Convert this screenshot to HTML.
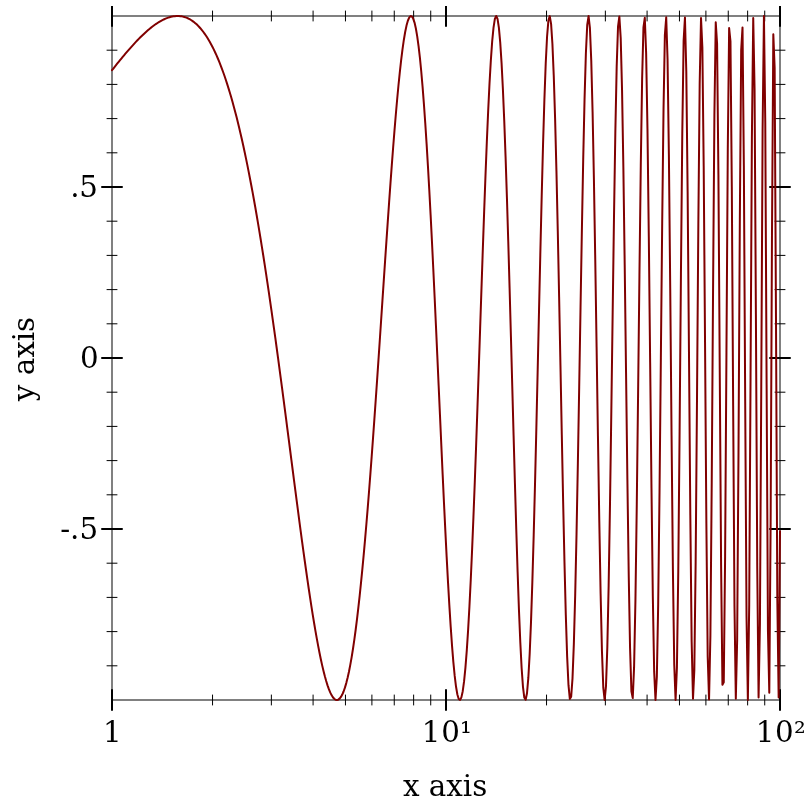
<!DOCTYPE html>
<html><head><meta charset="utf-8"><title>plot</title>
<style>
html,body{margin:0;padding:0;background:#fff;}
svg{display:block}
text{font-family:"DejaVu Serif","Liberation Serif",serif;font-size:29.33px;fill:#000}
</style></head><body>
<svg width="812" height="812" viewBox="0 0 812 812">
<rect width="812" height="812" fill="#fff"/>
<rect x="112" y="16" width="668" height="684" fill="none" stroke="#808080" stroke-width="2"/>
<path d="M107,665.80H117 M775,665.80H785 M107,631.60H117 M775,631.60H785 M107,597.40H117 M775,597.40H785 M107,563.20H117 M775,563.20H785 M107,494.80H117 M775,494.80H785 M107,460.60H117 M775,460.60H785 M107,426.40H117 M775,426.40H785 M107,392.20H117 M775,392.20H785 M107,323.80H117 M775,323.80H785 M107,289.60H117 M775,289.60H785 M107,255.40H117 M775,255.40H785 M107,221.20H117 M775,221.20H785 M107,152.80H117 M775,152.80H785 M107,118.60H117 M775,118.60H785 M107,84.40H117 M775,84.40H785 M107,50.20H117 M775,50.20H785 M212.54,11V21 M212.54,695V705 M271.36,11V21 M271.36,695V705 M313.09,11V21 M313.09,695V705 M345.46,11V21 M345.46,695V705 M371.90,11V21 M371.90,695V705 M394.26,11V21 M394.26,695V705 M413.63,11V21 M413.63,695V705 M430.72,11V21 M430.72,695V705 M546.54,11V21 M546.54,695V705 M605.36,11V21 M605.36,695V705 M647.09,11V21 M647.09,695V705 M679.46,11V21 M679.46,695V705 M705.90,11V21 M705.90,695V705 M728.26,11V21 M728.26,695V705 M747.63,11V21 M747.63,695V705 M764.72,11V21 M764.72,695V705" stroke="#000" stroke-width="1" stroke-linecap="round" fill="none"/>
<clipPath id="c"><rect x="0" y="6" width="812" height="806"/></clipPath>
<path clip-path="url(#c)" d="M102,529.00H122 M770,529.00H790 M102,358.00H122 M770,358.00H790 M102,187.00H122 M770,187.00H790 M112,6V26 M112,690V710 M446,6V26 M446,690V710 M780,6V26 M780,690V710" stroke="#000" stroke-width="2" stroke-linecap="round" fill="none"/>
<path d="M112.00,70.22 L113.34,68.52 L114.68,66.82 L116.02,65.14 L117.35,63.47 L118.69,61.81 L120.03,60.17 L121.37,58.54 L122.71,56.92 L124.05,55.31 L125.39,53.72 L126.73,52.15 L128.06,50.60 L129.40,49.06 L130.74,47.54 L132.08,46.05 L133.42,44.57 L134.76,43.12 L136.10,41.69 L137.43,40.29 L138.77,38.91 L140.11,37.56 L141.45,36.23 L142.79,34.94 L144.13,33.67 L145.47,32.44 L146.81,31.24 L148.14,30.07 L149.48,28.94 L150.82,27.84 L152.16,26.79 L153.50,25.77 L154.84,24.79 L156.18,23.86 L157.52,22.97 L158.85,22.12 L160.19,21.33 L161.53,20.58 L162.87,19.88 L164.21,19.23 L165.55,18.64 L166.89,18.10 L168.22,17.62 L169.56,17.20 L170.90,16.84 L172.24,16.54 L173.58,16.30 L174.92,16.13 L176.26,16.03 L177.60,16.00 L178.93,16.04 L180.27,16.16 L181.61,16.35 L182.95,16.62 L184.29,16.97 L185.63,17.40 L186.97,17.92 L188.30,18.52 L189.64,19.21 L190.98,19.99 L192.32,20.87 L193.66,21.84 L195.00,22.91 L196.34,24.08 L197.68,25.35 L199.01,26.72 L200.35,28.21 L201.69,29.80 L203.03,31.50 L204.37,33.32 L205.71,35.25 L207.05,37.30 L208.38,39.48 L209.72,41.77 L211.06,44.19 L212.40,46.74 L213.74,49.42 L215.08,52.23 L216.42,55.17 L217.76,58.26 L219.09,61.48 L220.43,64.84 L221.77,68.34 L223.11,71.99 L224.45,75.79 L225.79,79.73 L227.13,83.83 L228.46,88.08 L229.80,92.48 L231.14,97.04 L232.48,101.76 L233.82,106.64 L235.16,111.67 L236.50,116.87 L237.84,122.23 L239.17,127.76 L240.51,133.45 L241.85,139.31 L243.19,145.33 L244.53,151.52 L245.87,157.88 L247.21,164.40 L248.55,171.10 L249.88,177.95 L251.22,184.98 L252.56,192.17 L253.90,199.53 L255.24,207.05 L256.58,214.73 L257.92,222.58 L259.25,230.58 L260.59,238.75 L261.93,247.06 L263.27,255.53 L264.61,264.15 L265.95,272.91 L267.29,281.82 L268.63,290.86 L269.96,300.04 L271.30,309.35 L272.64,318.78 L273.98,328.32 L275.32,337.98 L276.66,347.75 L278.00,357.61 L279.33,367.57 L280.67,377.61 L282.01,387.73 L283.35,397.91 L284.69,408.15 L286.03,418.45 L287.37,428.77 L288.71,439.13 L290.04,449.50 L291.38,459.88 L292.72,470.25 L294.06,480.61 L295.40,490.92 L296.74,501.19 L298.08,511.40 L299.41,521.54 L300.75,531.58 L302.09,541.51 L303.43,551.33 L304.77,561.00 L306.11,570.51 L307.45,579.84 L308.79,588.99 L310.12,597.91 L311.46,606.61 L312.80,615.05 L314.14,623.23 L315.48,631.10 L316.82,638.67 L318.16,645.90 L319.49,652.78 L320.83,659.28 L322.17,665.37 L323.51,671.05 L324.85,676.29 L326.19,681.06 L327.53,685.35 L328.87,689.13 L330.20,692.39 L331.54,695.09 L332.88,697.22 L334.22,698.76 L335.56,699.70 L336.90,700.00 L338.24,699.66 L339.58,698.65 L340.91,696.96 L342.25,694.57 L343.59,691.48 L344.93,687.65 L346.27,683.10 L347.61,677.80 L348.95,671.74 L350.28,664.93 L351.62,657.35 L352.96,649.00 L354.30,639.88 L355.64,630.00 L356.98,619.36 L358.32,607.97 L359.66,595.83 L360.99,582.96 L362.33,569.37 L363.67,555.09 L365.01,540.13 L366.35,524.53 L367.69,508.31 L369.03,491.49 L370.36,474.13 L371.70,456.26 L373.04,437.92 L374.38,419.16 L375.72,400.03 L377.06,380.59 L378.40,360.89 L379.74,341.00 L381.07,320.99 L382.41,300.92 L383.75,280.86 L385.09,260.90 L386.43,241.12 L387.77,221.59 L389.11,202.40 L390.44,183.64 L391.78,165.40 L393.12,147.78 L394.46,130.85 L395.80,114.73 L397.14,99.50 L398.48,85.25 L399.82,72.08 L401.15,60.09 L402.49,49.35 L403.83,39.97 L405.17,32.02 L406.51,25.59 L407.85,20.74 L409.19,17.56 L410.53,16.09 L411.86,16.41 L413.20,18.56 L414.54,22.57 L415.88,28.48 L417.22,36.30 L418.56,46.05 L419.90,57.71 L421.23,71.27 L422.57,86.70 L423.91,103.96 L425.25,122.97 L426.59,143.68 L427.93,165.97 L429.27,189.75 L430.61,214.90 L431.94,241.27 L433.28,268.70 L434.62,297.03 L435.96,326.06 L437.30,355.60 L438.64,385.43 L439.98,415.33 L441.31,445.05 L442.65,474.35 L443.99,502.97 L445.33,530.65 L446.67,557.12 L448.01,582.12 L449.35,605.38 L450.69,626.64 L452.02,645.65 L453.36,662.16 L454.70,675.94 L456.04,686.78 L457.38,694.50 L458.72,698.93 L460.06,699.92 L461.39,697.37 L462.73,691.21 L464.07,681.41 L465.41,667.97 L466.75,650.94 L468.09,630.42 L469.43,606.55 L470.77,579.53 L472.10,549.60 L473.44,517.04 L474.78,482.19 L476.12,445.45 L477.46,407.23 L478.80,368.02 L480.14,328.30 L481.47,288.63 L482.81,249.55 L484.15,211.66 L485.49,175.53 L486.83,141.76 L488.17,110.92 L489.51,83.57 L490.85,60.24 L492.18,41.42 L493.52,27.54 L494.86,18.97 L496.20,16.00 L497.54,18.84 L498.88,27.61 L500.22,42.31 L501.56,62.84 L502.89,88.99 L504.23,120.41 L505.57,156.65 L506.91,197.13 L508.25,241.17 L509.59,287.97 L510.93,336.64 L512.26,386.21 L513.60,435.63 L514.94,483.82 L516.28,529.67 L517.62,572.08 L518.96,609.98 L520.30,642.33 L521.64,668.23 L522.97,686.84 L524.31,697.51 L525.65,699.75 L526.99,693.25 L528.33,677.95 L529.67,654.02 L531.01,621.85 L532.34,582.11 L533.68,535.72 L535.02,483.82 L536.36,427.78 L537.70,369.15 L539.04,309.65 L540.38,251.09 L541.72,195.35 L543.05,144.29 L544.39,99.71 L545.73,63.28 L547.07,36.46 L548.41,20.45 L549.75,16.12 L551.09,23.93 L552.42,43.96 L553.76,75.78 L555.10,118.54 L556.44,170.88 L557.78,231.01 L559.12,296.75 L560.46,365.58 L561.80,434.72 L563.13,501.27 L564.47,562.28 L565.81,614.93 L567.15,656.64 L568.49,685.19 L569.83,698.92 L571.17,696.74 L572.51,678.33 L573.84,644.14 L575.18,595.42 L576.52,534.26 L577.86,463.45 L579.20,386.46 L580.54,307.26 L581.88,230.09 L583.21,159.32 L584.55,99.12 L585.89,53.26 L587.23,24.85 L588.57,16.05 L589.91,27.96 L591.25,60.41 L592.59,111.92 L593.92,179.70 L595.26,259.76 L596.60,347.09 L597.94,435.94 L599.28,520.22 L600.62,593.84 L601.96,651.22 L603.29,687.70 L604.63,700.00 L605.97,686.49 L607.31,647.52 L608.65,585.44 L609.99,504.61 L611.33,411.09 L612.67,312.32 L614.00,216.52 L615.34,132.05 L616.68,66.64 L618.02,26.66 L619.36,16.48 L620.70,37.86 L622.04,89.64 L623.37,167.69 L624.71,265.06 L626.05,372.58 L627.39,479.58 L628.73,574.96 L630.07,648.34 L631.41,691.23 L632.75,698.09 L634.08,667.16 L635.42,600.93 L636.76,506.06 L638.10,392.95 L639.44,274.64 L640.78,165.45 L642.12,79.20 L643.45,27.44 L644.79,17.79 L646.13,52.68 L647.47,128.67 L648.81,236.52 L650.15,362.16 L651.49,488.32 L652.83,596.86 L654.16,671.41 L655.50,699.91 L656.84,676.78 L658.18,604.17 L659.52,492.18 L660.86,357.70 L662.20,222.09 L663.54,107.89 L664.87,35.03 L666.21,17.21 L667.55,59.05 L668.89,154.71 L670.23,288.20 L671.57,435.79 L672.91,569.97 L674.24,664.57 L675.58,699.98 L676.92,667.51 L678.26,571.95 L679.60,431.33 L680.94,274.07 L682.28,133.45 L683.62,40.63 L684.95,17.55 L686.29,71.31 L687.63,191.60 L688.97,351.95 L690.31,515.11 L691.65,641.44 L692.99,698.63 L694.32,670.38 L695.66,561.68 L697.00,398.80 L698.34,223.69 L699.68,83.51 L701.02,17.93 L702.36,47.37 L703.70,165.94 L705.03,341.45 L706.37,523.33 L707.71,656.79 L709.05,699.48 L710.39,635.62 L711.73,482.76 L713.07,288.15 L714.40,115.03 L715.74,22.21 L717.08,43.61 L718.42,174.78 L719.76,372.03 L721.10,565.82 L722.44,684.73 L723.78,682.26 L725.11,556.18 L726.45,352.19 L727.79,148.87 L729.13,28.02 L730.47,41.29 L731.81,186.62 L733.15,405.78 L734.48,606.04 L735.82,698.85 L737.16,639.92 L738.50,452.16 L739.84,219.31 L741.18,50.10 L742.52,27.42 L743.86,166.12 L745.19,401.32 L746.53,616.37 L747.87,699.92 L749.21,604.80 L750.55,377.25 L751.89,137.56 L753.23,17.94 L754.57,88.74 L755.90,314.21 L757.24,566.83 L758.58,697.48 L759.92,624.26 L761.26,387.05 L762.60,130.00 L763.94,16.06 L765.27,122.49 L766.61,384.67 L767.95,630.82 L769.29,692.77 L770.63,523.07 L771.97,235.78 L773.31,34.25 L774.65,67.73 L775.98,317.05 L777.32,598.96 L778.66,697.49 L780.00,531.18" stroke="#800000" stroke-width="2" stroke-linejoin="round" stroke-linecap="round" fill="none"/>
<text x="112.3" y="742" text-anchor="middle">1</text>
<text x="421.8 441.2 460.1" y="742">10¹</text>
<text x="755.7 775.1 794.0" y="742">10²</text>
<text x="70.15 79.14" y="197">.5</text>
<text x="98.65" y="368" text-anchor="end">0</text>
<text x="98.1" y="539" text-anchor="end">-.5</text>
<text x="445.1" y="795.5" text-anchor="middle">x axis</text>
<text transform="translate(34.1,359) rotate(-90)" text-anchor="middle">y axis</text>
</svg>
</body></html>
